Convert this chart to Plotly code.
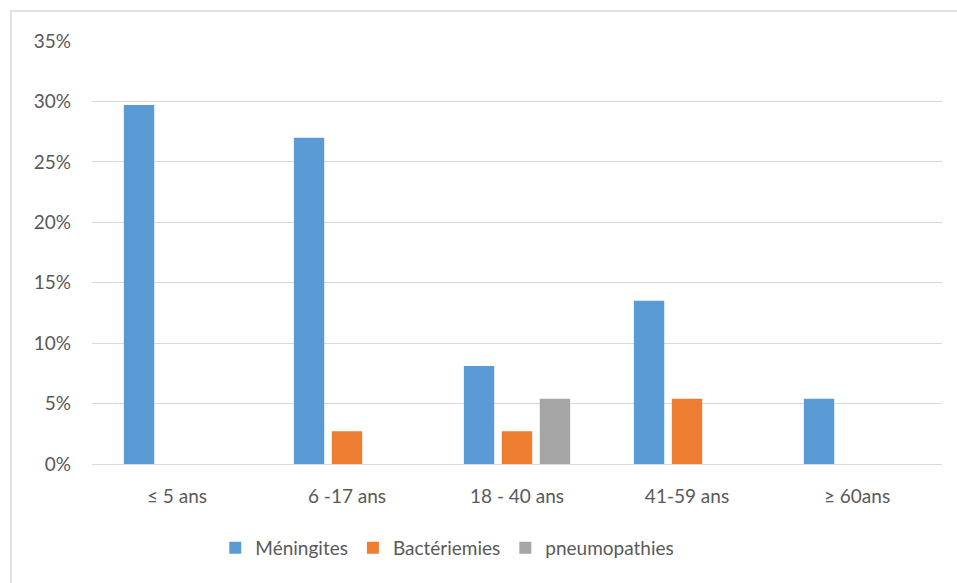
import plotly.graph_objects as go

categories = ["≤ 5 ans", "6 -17 ans", "18 - 40 ans", "41-59 ans", "≥ 60ans"]
meningites = [0.297, 0.270, 0.081, 0.135, 0.054]
bacteriemies = [0.0, 0.027, 0.027, 0.054, 0.0]
pneumopathies = [0.0, 0.0, 0.054, 0.0, 0.0]
series_names = ["Méningites", "Bactériemies", "pneumopathies"]
colors = ["#5B9BD5", "#ED7D31", "#A5A5A5"]

W, H = 957, 583
L, R, T, B = 92, 15, 41, 119
pw, ph = W - L - R, H - T - B

fig = go.Figure()
for name, vals, c in zip(series_names, [meningites, bacteriemies, pneumopathies], colors):
    fig.add_trace(go.Bar(x=categories, y=vals, name=name, marker=dict(color=c, line=dict(width=0))))

font = "Lato, 'Open Sans', sans-serif"
fig.update_layout(
    width=W, height=H,
    margin=dict(l=L, r=R, t=T, b=B),
    paper_bgcolor="white", plot_bgcolor="white",
    barmode="group", bargap=0.33, bargroupgap=0.2,
    font=dict(family=font, size=19, color="#595959"),
    legend=dict(orientation="h", x=0.418, xanchor="center", y=-84 / ph, yanchor="middle",
                font=dict(size=19, color="#595959"), itemwidth=30, traceorder="normal"),
    xaxis=dict(showgrid=False, showline=False, ticks="", ticklabelstandoff=19,
               tickfont=dict(size=19, color="#595959")),
    yaxis=dict(range=[0, 0.35], dtick=0.05, tickformat=".0%", showgrid=True, gridcolor="#D9D9D9",
               gridwidth=1, zeroline=True, zerolinecolor="#D9D9D9", zerolinewidth=1,
               showline=False, ticks="", ticklabelstandoff=20, tickfont=dict(size=19, color="#595959")),
    shapes=[dict(type="rect", xref="paper", yref="paper",
                 x0=(11 - L) / pw, x1=(W + 10 - L) / pw,
                 y0=-(H + 10 - T - ph) / ph, y1=(ph + T - 11) / ph,
                 line=dict(color="#D9D9D9", width=1.5), fillcolor="rgba(0,0,0,0)", layer="below")],
)

fig.write_html("out.html", config={"displayModeBar": False},
               post_script="document.body.style.margin='0';")
